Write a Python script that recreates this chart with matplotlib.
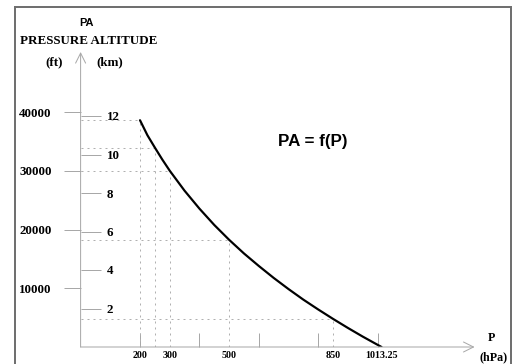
import matplotlib
matplotlib.use("Agg")
import matplotlib.pyplot as plt
from matplotlib.patches import Rectangle

# standard atmosphere: pressure (hPa) -> pressure altitude (km)
pressure_hpa = [200, 225, 250, 275, 300, 350, 400, 450, 500, 550, 600,
                650, 700, 750, 800, 850, 900, 950, 1013.25]
altitude_km = [11.78, 11.0, 10.36, 9.74, 9.16, 8.12, 7.19, 6.34, 5.57, 4.86,
               4.21, 3.59, 3.01, 2.46, 1.95, 1.46, 0.99, 0.54, 0.0]

# dotted guide levels
guide_p = [200, 250, 300, 500, 850]
guide_h = [11.78, 10.36, 9.16, 5.57, 1.46]

km_ticks = [2, 4, 6, 8, 10, 12]
ft_ticks = [10000, 20000, 30000, 40000]
p_tick_marks = [200, 400, 600, 800, 1000]
p_tick_labels = [200, 300, 500, 850, 1013.25]

W, H, DPI = 517, 364, 72
fig = plt.figure(figsize=(W / DPI, H / DPI), dpi=DPI)
ax = fig.add_axes([80.6 / W, 17 / H, 394 / W, 295 / H])
ax.set_xlim(0, 394 / 0.297)
ax.set_ylim(0, 295 / 19.25)

serif = "Liberation Serif"
sans = "Liberation Sans"
grey = "#a8a8a8"

for s in ax.spines.values():
    s.set_visible(False)

# axis arrows
arrow = dict(arrowstyle="->,head_length=1.0,head_width=0.5", color=grey, lw=1,
             shrinkA=0, shrinkB=0)
ax.annotate("", xy=(0, 1), xytext=(0, 0), xycoords="axes fraction", arrowprops=arrow)
ax.annotate("", xy=(1, 0), xytext=(0, 0), xycoords="axes fraction", arrowprops=arrow)

# dotted guides
for p, h in zip(guide_p, guide_h):
    ax.plot([p, p], [0, h], color="#b0b0b0", lw=1, dashes=(2, 4))
    ax.plot([0, p], [h, h], color="#b0b0b0", lw=1, dashes=(2, 4))

ax.plot(pressure_hpa, altitude_km, color="black", lw=2.2, solid_capstyle="round")

# x ticks
ax.xaxis.remove_overlapping_locs = False
ax.set_xticks(p_tick_marks)
ax.set_xticklabels([])
ax.tick_params(axis="x", which="major", direction="in", length=14, color=grey, width=1)
ax.set_xticks(p_tick_labels, minor=True)
ax.set_xticklabels([f"{v:g}" for v in p_tick_labels], minor=True,
                   fontfamily=serif, fontweight="bold", fontsize=10)
ax.tick_params(axis="x", which="minor", length=0, pad=4)

# km ticks (inside, labels right of axis)
ax.set_yticks(km_ticks)
ax.set_yticklabels([str(v) for v in km_ticks], fontfamily=serif,
                   fontweight="bold", fontsize=13, ha="left")
ax.tick_params(axis="y", direction="in", length=20, color=grey, width=1, pad=-26)

# ft ticks (outside)
sec = ax.secondary_yaxis("left", functions=(lambda k: k * 3280.84, lambda f: f / 3280.84))
sec.spines["left"].set_visible(False)
sec.set_yticks(ft_ticks)
sec.set_yticklabels([str(v) for v in ft_ticks], fontfamily=serif,
                    fontweight="bold", fontsize=13)
sec.tick_params(axis="y", direction="out", length=17, color=grey, width=1, pad=12)

# texts
fig.text(87 / W, 1 - 23 / H, "PA", fontfamily=sans, fontweight="bold",
         fontsize=11, ha="center", va="center")
fig.text(89 / W, 1 - 41 / H, "PRESSURE ALTITUDE", fontfamily=serif,
         fontweight="bold", fontsize=13, ha="center", va="center")
fig.text(54 / W, 1 - 62 / H, "(ft)", fontfamily=serif, fontweight="bold",
         fontsize=13, ha="center", va="center")
fig.text(110 / W, 1 - 62 / H, "(km)", fontfamily=serif, fontweight="bold",
         fontsize=13, ha="center", va="center")
fig.text(491 / W, 1 - 338 / H, "P", fontfamily=serif, fontweight="bold",
         fontsize=12, ha="center", va="center")
fig.text(494 / W, 1 - 357 / H, "(hPa)", fontfamily=serif, fontweight="bold",
         fontsize=12, ha="center", va="center")
ax.text(780, 10.7, "PA = f(P)", fontfamily=sans, fontweight="bold",
        fontsize=17, ha="center", va="center")

# outer frame
fig.add_artist(Rectangle((15 / W, -0.1), (511 - 15) / W, 1.1 - 7 / H,
                         transform=fig.transFigure, fill=False,
                         ec="#707070", lw=2))

fig.savefig("out.png", dpi=DPI)
